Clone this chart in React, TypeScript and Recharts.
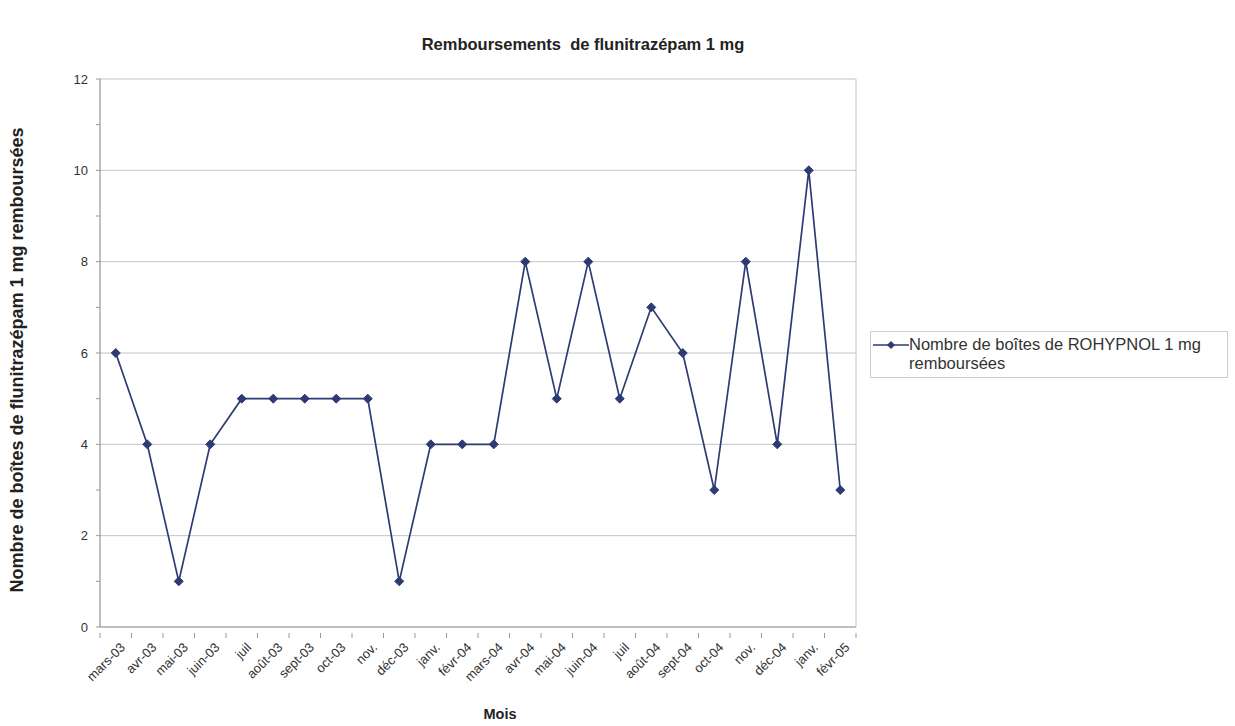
import { LineChart, Line, XAxis, YAxis, CartesianGrid, Legend, Label } from 'recharts';

// Remboursements de flunitrazépam 1 mg, mars 2003 - févr. 2005

const months = [
  'mars-03', 'avr-03', 'mai-03', 'juin-03', 'juil', 'août-03', 'sept-03', 'oct-03',
  'nov.', 'déc-03', 'janv.', 'févr-04', 'mars-04', 'avr-04', 'mai-04', 'juin-04',
  'juil', 'août-04', 'sept-04', 'oct-04', 'nov.', 'déc-04', 'janv.', 'févr-05',
];
const boxes = [6, 4, 1, 4, 5, 5, 5, 5, 5, 1, 4, 4, 4, 8, 5, 8, 5, 7, 6, 3, 8, 4, 10, 3];
const yTicks = [0, 1, 2, 3, 4, 5, 6, 7, 8, 9, 10, 11, 12];
const gridValues = [2, 4, 6, 8, 10, 12];

const data = months.map((m, i) => ({ key: `${i}`, month: m, boxes: boxes[i] }));

const FONT = '"Liberation Sans", Arial, sans-serif';
const LINE = '#2d3b73';

const MARGIN = { top: 79, right: 379, left: 55, bottom: 39 };
const Y_W = 45;
const PLOT_W = 1235 - MARGIN.left - Y_W - MARGIN.right;
const HALF_BAND = PLOT_W / months.length / 2;

const MonthTick = (props: any) => {
  const { x, y, payload } = props;
  const axisY = y - 2;
  const bx = x - HALF_BAND;
  return (
    <g>
      <line x1={bx} y1={axisY} x2={bx} y2={axisY + 5} stroke="#999" />
      {payload.index === months.length - 1 && (
        <line x1={x + HALF_BAND} y1={axisY} x2={x + HALF_BAND} y2={axisY + 5} stroke="#999" />
      )}
      <text
        x={0}
        y={0}
        transform={`translate(${x + 7},${y + 10}) rotate(-45)`}
        textAnchor="end"
        dominantBaseline="central"
        fill="#333"
        fontSize={13}
        fontFamily={FONT}
      >
        {months[payload.index] ?? payload.value}
      </text>
    </g>
  );
};

const ValueTick = (props: any) => {
  const { x, y, payload } = props;
  if (payload.value % 2 !== 0) return null;
  return (
    <text x={x - 6} y={y} textAnchor="end" dominantBaseline="central" fill="#333" fontSize={13} fontFamily={FONT}>
      {payload.value}
    </text>
  );
};

const YTitle = (props: any) => {
  const { viewBox } = props;
  const cx = viewBox.x - 38;
  const cy = viewBox.y + viewBox.height / 2 + 7;
  return (
    <text
      transform={`translate(${cx},${cy}) rotate(-90)`}
      textAnchor="middle"
      dominantBaseline="central"
      fontFamily={FONT}
      fontWeight="bold"
      fontSize={18}
      fill="#222"
    >
      Nombre de boîtes de flunitrazépam 1 mg remboursées
    </text>
  );
};

const Diamond = (props: any) => {
  const { cx, cy } = props;
  if (cx == null || cy == null) return null;
  const r = 4.5;
  return (
    <polygon
      points={`${cx},${cy - r} ${cx + r},${cy} ${cx},${cy + r} ${cx - r},${cy}`}
      fill={LINE}
      stroke={LINE}
    />
  );
};

const LegendBox = () => (
  <div
    style={{
      border: '1px solid #cfcfcf',
      padding: '3px 4px 4px 2px',
      display: 'flex',
      alignItems: 'flex-start',
      fontFamily: FONT,
      fontSize: 16.5,
      color: '#333',
      lineHeight: '19px',
      background: '#fff',
      boxSizing: 'border-box',
      height: 47,
    }}
  >
    <svg width={36} height={16} style={{ marginTop: 2, flex: 'none' }}>
      <line x1={0} y1={8} x2={36} y2={8} stroke={LINE} strokeWidth={1.5} />
      <polygon points="18,4 22,8 18,12 14,8" fill={LINE} />
    </svg>
    <span style={{ whiteSpace: 'nowrap' }}>
      Nombre de boîtes de ROHYPNOL 1 mg
      <br />
      remboursées
    </span>
  </div>
);

export default function App() {
  return (
    <div style={{ position: 'absolute', left: 0, top: 0, width: 1235, height: 726, background: '#fff' }}>
      <div
        style={{
          position: 'absolute',
          left: 333,
          top: 35,
          width: 500,
          textAlign: 'center',
          fontFamily: FONT,
          fontWeight: 'bold',
          fontSize: 16.5,
          color: '#222',
          whiteSpace: 'pre',
        }}
      >
        {'Remboursements  de flunitrazépam 1 mg'}
      </div>
      <LineChart width={1235} height={726} data={data} margin={MARGIN}>
        <CartesianGrid
          stroke="#c4c4c4"
          horizontalValues={gridValues}
          verticalCoordinatesGenerator={({ offset }: any) => [offset.left + offset.width]}
        />
        <XAxis
          dataKey="key"
          interval={0}
          height={60}
          padding={{ left: HALF_BAND, right: HALF_BAND }}
          tick={<MonthTick />}
          tickLine={false}
          axisLine={{ stroke: '#808080' }}
          label={{
            value: 'Mois',
            position: 'bottom',
            offset: 22,
            dx: 22,
            style: { fontFamily: FONT, fontWeight: 'bold', fontSize: 14.5, fill: '#222' },
          }}
        />
        <YAxis
          width={Y_W}
          domain={[0, 12]}
          ticks={yTicks}
          interval={0}
          tick={<ValueTick />}
          tickSize={4}
          tickLine={{ stroke: '#999' }}
          axisLine={{ stroke: '#808080' }}
        >
          <Label content={<YTitle />} position="left" />
        </YAxis>
        <Legend
          layout="horizontal"
          verticalAlign="middle"
          align="center"
          content={<LegendBox />}
          wrapperStyle={{ left: 870, top: 331, width: 358 }}
        />
        <Line
          type="linear"
          dataKey="boxes"
          stroke={LINE}
          strokeWidth={1.7}
          dot={<Diamond />}
          activeDot={false}
          isAnimationActive={false}
        />
      </LineChart>
    </div>
  );
}
